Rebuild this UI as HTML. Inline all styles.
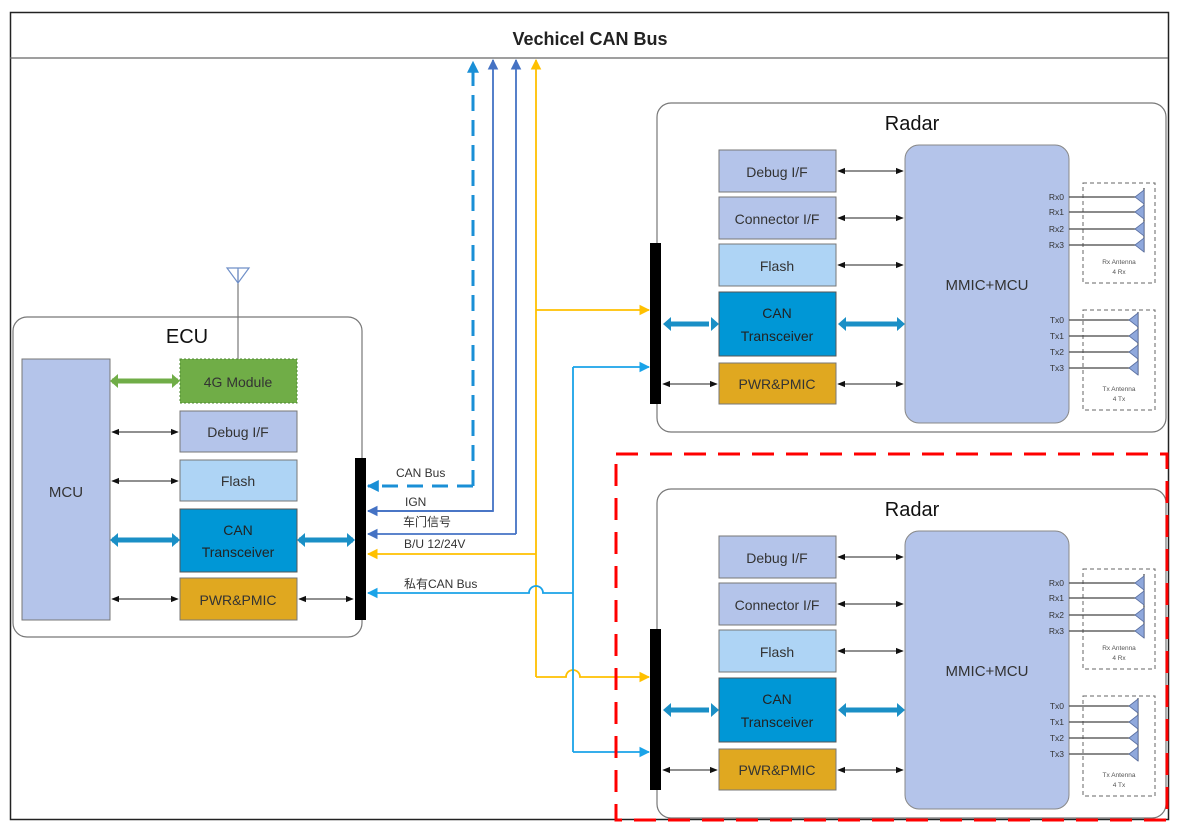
<!DOCTYPE html>
<html><head><meta charset="utf-8"><style>
html,body{margin:0;padding:0;background:#fff;}
svg{display:block;font-family:"Liberation Sans","Noto Sans CJK SC",sans-serif;}
</style></head><body>
<svg width="1184" height="832" viewBox="0 0 1184 832" xmlns="http://www.w3.org/2000/svg">
<defs>
<marker id="ab" viewBox="0 0 10 10" refX="9" refY="5" markerWidth="8" markerHeight="8" orient="auto-start-reverse"><path d="M0,1 L10,5 L0,9 z" fill="#111"/></marker>
<marker id="ao" viewBox="0 0 10 10" refX="9" refY="5" markerWidth="6" markerHeight="6" orient="auto"><path d="M0,0 L10,5 L0,10 z" fill="#ffc000"/></marker>
<marker id="ac" viewBox="0 0 10 10" refX="9" refY="5" markerWidth="6" markerHeight="6" orient="auto"><path d="M0,0 L10,5 L0,10 z" fill="#1aa3e8"/></marker>
<marker id="ad" viewBox="0 0 10 10" refX="9" refY="5" markerWidth="6" markerHeight="6" orient="auto"><path d="M0,0 L10,5 L0,10 z" fill="#4472c4"/></marker>
<marker id="acd" viewBox="0 0 10 10" refX="9" refY="5" markerWidth="4" markerHeight="4" orient="auto"><path d="M0,0 L10,5 L0,10 z" fill="#1a8fd6"/></marker>
</defs>

<rect x="10.5" y="12.5" width="1158" height="807" fill="none" stroke="#222" stroke-width="1.5"/>
<line x1="10" y1="58" x2="1168" y2="58" stroke="#666" stroke-width="1.2"/>
<text x="590" y="45" font-size="18" font-weight="bold" text-anchor="middle" fill="#222">Vechicel CAN Bus</text>

<!-- ECU -->
<rect x="13" y="317" width="349" height="320" rx="14" fill="none" stroke="#777" stroke-width="1.2"/>
<text x="187" y="343" font-size="20" text-anchor="middle" fill="#111">ECU</text>
<line x1="238" y1="270" x2="238" y2="359" stroke="#777" stroke-width="1.2"/>
<path d="M227,268 L249,268 L238,283 Z M238,268 L238,283" fill="none" stroke="#6f8fc8" stroke-width="1.2"/>
<rect x="22" y="359" width="88" height="261" fill="#b4c4ea" stroke="#777"/>
<text x="66" y="497" font-size="15" text-anchor="middle" fill="#333">MCU</text>
<rect x="180" y="359" width="117" height="44" fill="#70ad47" stroke="#4e8a30" stroke-dasharray="2,2"/>
<text x="238" y="387" font-size="14" text-anchor="middle" fill="#333">4G Module</text>
<rect x="180" y="411" width="117" height="41" fill="#b4c4ea" stroke="#777"/>
<text x="238" y="437" font-size="14" text-anchor="middle" fill="#333">Debug I/F</text>
<rect x="180" y="460" width="117" height="41" fill="#aed4f5" stroke="#777"/>
<text x="238" y="486" font-size="14" text-anchor="middle" fill="#333">Flash</text>
<rect x="180" y="509" width="117" height="63" fill="#0097d6" stroke="#555"/>
<text x="238" y="535" font-size="14" text-anchor="middle" fill="#222">CAN</text>
<text x="238" y="557" font-size="14" text-anchor="middle" fill="#222">Transceiver</text>
<rect x="180" y="578" width="117" height="42" fill="#e0a820" stroke="#777"/>
<text x="238" y="605" font-size="14" text-anchor="middle" fill="#333">PWR&amp;PMIC</text>
<rect x="355" y="458" width="11" height="162" fill="#000"/>
<line x1="112" y1="381" x2="178" y2="381" stroke="#70ad47" stroke-width="5"/>
<path d="M110,381 l8,-7 v14z M180,381 l-8,-7 v14z" fill="#70ad47"/>
<line x1="112" y1="432" x2="178" y2="432" stroke="#222" marker-start="url(#ab)" marker-end="url(#ab)"/>
<line x1="112" y1="481" x2="178" y2="481" stroke="#222" marker-start="url(#ab)" marker-end="url(#ab)"/>
<line x1="112" y1="599" x2="178" y2="599" stroke="#222" marker-start="url(#ab)" marker-end="url(#ab)"/>
<line x1="299" y1="599" x2="353" y2="599" stroke="#222" marker-start="url(#ab)" marker-end="url(#ab)"/>
<line x1="112" y1="540" x2="178" y2="540" stroke="#1a8fc6" stroke-width="5"/>
<path d="M110,540 l8,-7 v14z M180,540 l-8,-7 v14z" fill="#1a8fc6"/>
<line x1="299" y1="540" x2="353" y2="540" stroke="#1a8fc6" stroke-width="5"/>
<path d="M297,540 l8,-7 v14z M355,540 l-8,-7 v14z" fill="#1a8fc6"/>

<!-- signal lines -->
<path d="M473,486 V62" stroke="#1a8fd6" stroke-width="3" stroke-dasharray="16,9" fill="none" marker-end="url(#acd)"/>
<path d="M473,486 H368" stroke="#1a8fd6" stroke-width="3" stroke-dasharray="16,9" fill="none" marker-end="url(#acd)"/>
<path d="M368,511 H493 V60" stroke="#4472c4" stroke-width="1.8" fill="none" marker-end="url(#ad)"/>
<path d="M493,511 H368" stroke="#4472c4" stroke-width="1.8" fill="none" marker-end="url(#ad)"/>
<path d="M516,534 V60" stroke="#4472c4" stroke-width="1.8" fill="none" marker-end="url(#ad)"/>
<path d="M516,534 H368" stroke="#4472c4" stroke-width="1.8" fill="none" marker-end="url(#ad)"/>
<path d="M536,677 V60" stroke="#ffc000" stroke-width="1.8" fill="none" marker-end="url(#ao)"/>
<path d="M536,554 H368" stroke="#ffc000" stroke-width="1.8" fill="none" marker-end="url(#ao)"/>
<path d="M536,310 H649" stroke="#ffc000" stroke-width="1.8" fill="none" marker-end="url(#ao)"/>
<path d="M536,677 H566 a6,6 0 0 1 14,0 H649" stroke="#ffc000" stroke-width="1.8" fill="none" marker-end="url(#ao)"/>
<path d="M573,593 H543 a6,6 0 0 0 -14,0 H368" stroke="#1aa3e8" stroke-width="1.8" fill="none" marker-end="url(#ac)"/>
<path d="M573,367 V752" stroke="#1aa3e8" stroke-width="1.8" fill="none"/>
<path d="M573,367 H649" stroke="#1aa3e8" stroke-width="1.8" fill="none" marker-end="url(#ac)"/>
<path d="M573,752 H649" stroke="#1aa3e8" stroke-width="1.8" fill="none" marker-end="url(#ac)"/>
<text x="396" y="477" font-size="12" fill="#333">CAN Bus</text>
<text x="405" y="506" font-size="12" fill="#333">IGN</text>
<text x="403" y="526" font-size="12" fill="#333">车门信号</text>
<text x="404" y="548" font-size="12" fill="#333">B/U 12/24V</text>
<text x="404" y="588" font-size="12" fill="#333">私有CAN Bus</text>

<g id="radar">
<rect x="657" y="103" width="509" height="329" rx="14" fill="none" stroke="#777" stroke-width="1.2"/>
<text x="912" y="130" font-size="20" text-anchor="middle" fill="#111">Radar</text>
<rect x="650" y="243" width="11" height="161" fill="#000"/>
<rect x="719" y="150" width="117" height="42" fill="#b4c4ea" stroke="#777"/>
<text x="777" y="177" font-size="14" text-anchor="middle" fill="#333">Debug I/F</text>
<rect x="719" y="197" width="117" height="42" fill="#b4c4ea" stroke="#777"/>
<text x="777" y="224" font-size="14" text-anchor="middle" fill="#333">Connector I/F</text>
<rect x="719" y="244" width="117" height="42" fill="#aed4f5" stroke="#777"/>
<text x="777" y="271" font-size="14" text-anchor="middle" fill="#333">Flash</text>
<rect x="719" y="292" width="117" height="64" fill="#0097d6" stroke="#555"/>
<text x="777" y="318" font-size="14" text-anchor="middle" fill="#222">CAN</text>
<text x="777" y="341" font-size="14" text-anchor="middle" fill="#222">Transceiver</text>
<rect x="719" y="363" width="117" height="41" fill="#e0a820" stroke="#777"/>
<text x="777" y="389" font-size="14" text-anchor="middle" fill="#333">PWR&amp;PMIC</text>
<rect x="905" y="145" width="164" height="278" rx="14" fill="#b4c4ea" stroke="#888"/>
<text x="987" y="290" font-size="15" text-anchor="middle" fill="#333">MMIC+MCU</text>
<line x1="838" y1="171" x2="903" y2="171" stroke="#222" marker-start="url(#ab)" marker-end="url(#ab)"/>
<line x1="838" y1="218" x2="903" y2="218" stroke="#222" marker-start="url(#ab)" marker-end="url(#ab)"/>
<line x1="838" y1="265" x2="903" y2="265" stroke="#222" marker-start="url(#ab)" marker-end="url(#ab)"/>
<line x1="838" y1="384" x2="903" y2="384" stroke="#222" marker-start="url(#ab)" marker-end="url(#ab)"/>
<line x1="663" y1="384" x2="717" y2="384" stroke="#222" marker-start="url(#ab)" marker-end="url(#ab)"/>
<line x1="671" y1="324" x2="709" y2="324" stroke="#1a8fc6" stroke-width="5"/>
<path d="M663,324 l8,-7 v14z M719,324 l-8,-7 v14z" fill="#1a8fc6"/>
<line x1="846" y1="324" x2="897" y2="324" stroke="#1a8fc6" stroke-width="5"/>
<path d="M838,324 l8,-7 v14z M905,324 l-8,-7 v14z" fill="#1a8fc6"/>
<rect x="1083" y="183" width="72" height="100" fill="none" stroke="#666" stroke-dasharray="4,3"/>
<rect x="1083" y="310" width="72" height="100" fill="none" stroke="#666" stroke-dasharray="4,3"/>
<g font-size="8.5" fill="#333" text-anchor="end">
<text x="1064" y="200">Rx0</text><text x="1064" y="215">Rx1</text><text x="1064" y="232">Rx2</text><text x="1064" y="248">Rx3</text>
<text x="1064" y="323">Tx0</text><text x="1064" y="339">Tx1</text><text x="1064" y="355">Tx2</text><text x="1064" y="371">Tx3</text>
</g>
<g font-size="6.5" fill="#555" text-anchor="middle">
<text x="1119" y="264">Rx Antenna</text><text x="1119" y="274">4 Rx</text>
<text x="1119" y="391">Tx Antenna</text><text x="1119" y="401">4 Tx</text>
</g>
<g stroke="#444" stroke-width="1.2">
<line x1="1069" y1="197" x2="1136" y2="197"/><line x1="1069" y1="212" x2="1136" y2="212"/><line x1="1069" y1="229" x2="1136" y2="229"/><line x1="1069" y1="245" x2="1136" y2="245"/>
<line x1="1069" y1="320" x2="1130" y2="320"/><line x1="1069" y1="336" x2="1130" y2="336"/><line x1="1069" y1="352" x2="1130" y2="352"/><line x1="1069" y1="368" x2="1130" y2="368"/>
<line x1="1144" y1="188" x2="1144" y2="252"/><line x1="1138" y1="312" x2="1138" y2="375"/>
</g>
<g fill="#8fa8dc" stroke="#5a6fa0" stroke-width="0.8">
<path d="M1135,197 L1144,190 V204Z"/><path d="M1135,212 L1144,205 V219Z"/><path d="M1135,229 L1144,222 V236Z"/><path d="M1135,245 L1144,238 V252Z"/>
<path d="M1129,320 L1138,313 V327Z"/><path d="M1129,336 L1138,329 V343Z"/><path d="M1129,352 L1138,345 V359Z"/><path d="M1129,368 L1138,361 V375Z"/>
</g>
</g>
<use href="#radar" transform="translate(0,386)"/>

<rect x="616" y="454" width="551" height="366" fill="none" stroke="#ff0000" stroke-width="3" stroke-dasharray="22,12"/>
</svg>
</body></html>
